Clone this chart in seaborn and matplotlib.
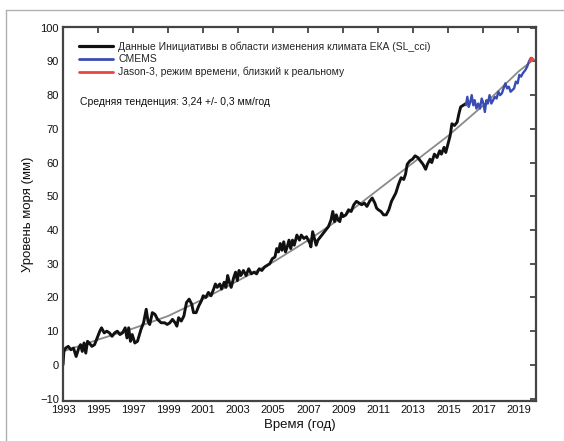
import matplotlib
matplotlib.use("Agg")
import matplotlib.pyplot as plt
from matplotlib.lines import Line2D
import seaborn as sns
import pandas as pd

# Global mean sea level, ESA Climate Change Initiative record (mm)
cci_years = [1993.0, 1993.05, 1993.15, 1993.3, 1993.45, 1993.6, 1993.75, 1993.9, 1994.0, 1994.1,
             1994.2, 1994.3, 1994.4, 1994.5, 1994.65, 1994.8, 1994.95, 1995.1, 1995.2, 1995.35,
             1995.5, 1995.65, 1995.8, 1995.95, 1996.1, 1996.25, 1996.4, 1996.55, 1996.65, 1996.75,
             1996.85, 1996.95, 1997.1, 1997.25, 1997.45, 1997.6, 1997.75, 1997.85, 1997.95, 1998.1,
             1998.25, 1998.4, 1998.6, 1998.8, 1998.95, 1999.1, 1999.25, 1999.4, 1999.5, 1999.6,
             1999.75, 1999.9, 2000.05, 2000.2, 2000.35, 2000.45, 2000.6, 2000.75, 2000.9, 2001.0,
             2001.15, 2001.3, 2001.45, 2001.6, 2001.7, 2001.8, 2001.95, 2002.05, 2002.2, 2002.3,
             2002.4, 2002.5, 2002.6, 2002.75, 2002.85, 2002.95, 2003.05, 2003.15, 2003.3, 2003.45,
             2003.6, 2003.75, 2003.9, 2004.05, 2004.2, 2004.35, 2004.5, 2004.65, 2004.8, 2004.95,
             2005.1, 2005.2, 2005.3, 2005.4, 2005.5, 2005.6, 2005.7, 2005.8, 2005.9, 2006.0,
             2006.1, 2006.2, 2006.35, 2006.5, 2006.6, 2006.75, 2006.9, 2007.0, 2007.1, 2007.15,
             2007.25, 2007.35, 2007.45, 2007.55, 2007.7, 2007.85, 2008.0, 2008.15, 2008.3, 2008.4,
             2008.5, 2008.6, 2008.7, 2008.8, 2008.9, 2009.0, 2009.15, 2009.3, 2009.45, 2009.6,
             2009.75, 2009.9, 2010.05, 2010.2, 2010.35, 2010.5, 2010.65, 2010.8, 2010.9, 2011.0,
             2011.15, 2011.3, 2011.45, 2011.6, 2011.75, 2011.9, 2012.0, 2012.15, 2012.3, 2012.45,
             2012.55, 2012.65, 2012.8, 2012.95, 2013.1, 2013.25, 2013.4, 2013.55, 2013.7, 2013.8,
             2013.95, 2014.05, 2014.2, 2014.35, 2014.5, 2014.6, 2014.75, 2014.85, 2015.0, 2015.1,
             2015.2, 2015.35, 2015.5, 2015.6, 2015.7, 2015.85, 2016.0]
cci_level = [0.0, 4.0, 5.0, 5.5, 4.5, 5.0, 2.5, 5.0, 6.0, 4.0,
             6.5, 3.5, 7.0, 6.5, 5.5, 6.0, 8.0, 10.0, 11.0, 9.5,
             10.0, 9.5, 8.5, 9.5, 10.0, 9.0, 9.5, 11.0, 8.0, 11.0,
             7.0, 9.0, 6.5, 7.0, 10.5, 12.5, 16.5, 13.0, 12.0, 15.5,
             15.0, 13.5, 12.5, 12.5, 12.0, 12.5, 13.5, 12.5, 11.5, 14.0,
             13.0, 14.5, 18.5, 19.5, 18.0, 15.5, 15.5, 17.5, 19.0, 20.5,
             20.0, 21.5, 20.5, 22.5, 24.0, 23.0, 24.0, 22.5, 24.5, 23.0,
             26.5, 24.5, 23.0, 26.0, 27.5, 25.0, 28.0, 26.5, 28.0, 26.5,
             28.5, 27.0, 27.5, 27.0, 28.5, 28.0, 29.0, 29.5, 30.0, 31.5,
             32.0, 34.5, 33.5, 36.0, 34.0, 36.5, 33.5, 35.0, 37.0, 34.5,
             37.0, 35.5, 38.5, 37.0, 38.5, 37.5, 38.0, 37.0, 36.0, 35.0,
             39.5, 37.5, 35.5, 37.0, 38.0, 39.0, 40.0, 41.0, 43.0, 45.5,
             42.5, 44.5, 43.0, 42.5, 45.0, 44.0, 44.5, 46.0, 45.5, 47.5,
             48.5, 48.0, 47.5, 48.0, 47.0, 48.5, 49.5, 48.0, 46.5, 46.0,
             45.5, 44.5, 44.5, 46.0, 48.5, 50.0, 51.0, 53.5, 55.5, 55.0,
             56.5, 59.5, 60.5, 61.0, 62.0, 61.5, 60.5, 59.5, 58.0, 59.5,
             61.0, 60.0, 62.5, 61.5, 63.5, 62.5, 64.5, 63.0, 66.0, 68.0,
             71.5, 71.0, 72.0, 74.5, 76.5, 77.0, 77.5]

# Copernicus Marine (CMEMS) continuation
cmems_years = [2016.0, 2016.08, 2016.16, 2016.25, 2016.33, 2016.42, 2016.5, 2016.6, 2016.7, 2016.8,
               2016.9, 2017.0, 2017.08, 2017.17, 2017.25, 2017.35, 2017.45, 2017.55, 2017.65, 2017.75,
               2017.85, 2017.95, 2018.05, 2018.15, 2018.25, 2018.35, 2018.45, 2018.55, 2018.65, 2018.75,
               2018.85, 2018.95, 2019.05, 2019.15, 2019.25, 2019.4, 2019.5, 2019.6, 2019.7]
cmems_level = [77.0, 79.5, 76.5, 78.0, 80.0, 77.0, 78.5, 76.0, 77.5, 76.0,
               79.0, 77.5, 75.0, 78.5, 77.5, 80.0, 77.5, 78.5, 79.5, 79.0,
               81.0, 80.0, 80.5, 82.0, 83.5, 82.0, 82.5, 81.0, 81.5, 82.0,
               84.0, 83.5, 86.0, 85.5, 86.5, 87.5, 88.5, 90.0, 91.0]

# Jason-3 near-real-time segment
jason_years = [2019.65, 2019.75, 2019.85]
jason_level = [90.0, 91.0, 90.5]

# Fitted mean trend
trend_years = [1993.0, 1995, 1997, 1999, 2001, 2003, 2005, 2007, 2009, 2011, 2013, 2015, 2017, 2019, 2019.85]
trend_level = [4.0, 7.5, 10.8, 14.5, 19.5, 25.0, 30.5, 37.0, 44.0, 52.0, 60.0, 68.0, 77.0, 87.0, 90.5]

legend_labels = ["Данные Инициативы в области изменения климата ЕКА (SL_cci)",
                 "CMEMS",
                 "Jason-3, режим времени, близкий к реальному"]
trend_note = "Средняя тенденция: 3,24 +/- 0,3 мм/год"
x_ticks = list(range(1993, 2020, 2))
y_ticks = list(range(-10, 101, 10))

sns.set_theme(style="white")
plt.rcParams["font.family"] = ["Liberation Sans", "DejaVu Sans"]

fig = plt.figure(figsize=(5.64, 4.41), dpi=100)
ax = fig.add_axes([63 / 564, 1 - 401 / 441, (536 - 63) / 564, (401 - 27) / 441])

c_black, c_blue, c_red, c_gray = "#111111", "#3a4cb4", "#e8473c", "#8a8a8a"

trend_df = pd.DataFrame({"year": trend_years, "level": trend_level})
cci_df = pd.DataFrame({"year": cci_years, "level": cci_level})
cmems_df = pd.DataFrame({"year": cmems_years, "level": cmems_level})
jason_df = pd.DataFrame({"year": jason_years, "level": jason_level})

sns.lineplot(data=trend_df, x="year", y="level", ax=ax, color=c_gray, lw=1.3, sort=False)
sns.lineplot(data=cci_df, x="year", y="level", ax=ax, color=c_black, lw=2.1, sort=False)
sns.lineplot(data=cmems_df, x="year", y="level", ax=ax, color=c_blue, lw=1.7, sort=False)
sns.lineplot(data=jason_df, x="year", y="level", ax=ax, color=c_red, lw=2.0, sort=False)

ax.set_xlim(1993, 2020)
ax.set_ylim(-10.7, 100.2)
ax.set_xticks(x_ticks)
ax.set_yticks(y_ticks)
ax.tick_params(axis="both", which="both", direction="in", length=4, width=1.3,
               color="#444444", labelsize=8, pad=3, top=True, right=True,
               labelcolor="#111111")
for s in ax.spines.values():
    s.set_color("#444444")
    s.set_linewidth(1.6)
    s.set_visible(True)

ax.set_xlabel("Время (год)", fontsize=9.5, color="#111111", labelpad=3)
ax.set_ylabel("Уровень моря (мм)", fontsize=9.5, color="#111111", labelpad=4)

handles = [Line2D([], [], color=c_black, lw=2.3),
           Line2D([], [], color=c_blue, lw=2.0),
           Line2D([], [], color=c_red, lw=2.0)]
ax.legend(handles, legend_labels, loc="upper left", bbox_to_anchor=(0.033, 0.962),
          frameon=False, fontsize=7.5, handlelength=3.3, handletextpad=0.5,
          labelspacing=0.25, borderpad=0, borderaxespad=0)

ax.text(1993.95, 78.1, trend_note, fontsize=7.5, va="center", ha="left", color="#111111")

# thin grey frame along the top and left of the panel
fig.add_artist(Line2D([6 / 564, 1.0], [1 - 10 / 441, 1 - 10 / 441], transform=fig.transFigure,
                      color="#b0b0b0", lw=1.0))
fig.add_artist(Line2D([6 / 564, 6 / 564], [0.0, 1 - 10 / 441], transform=fig.transFigure,
                      color="#b0b0b0", lw=1.0))

fig.savefig("out.png", dpi=100)
